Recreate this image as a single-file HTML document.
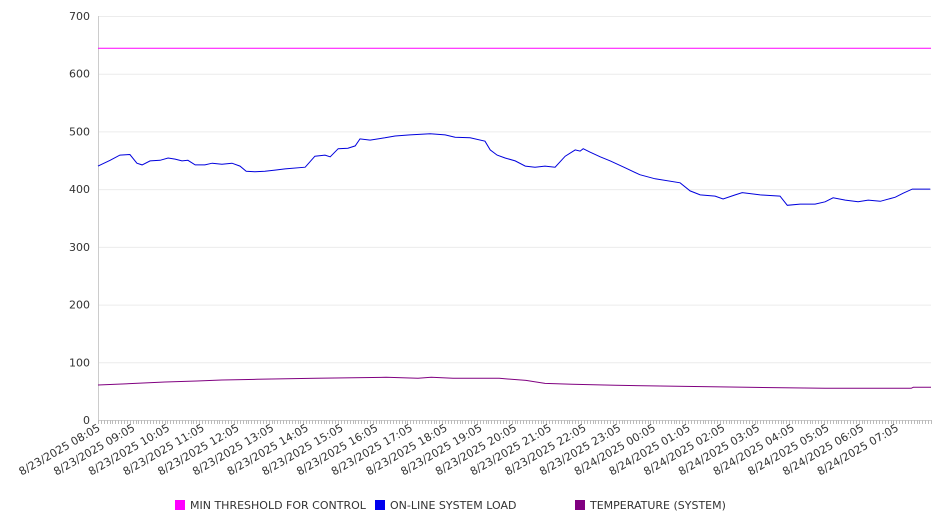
<!DOCTYPE html>
<html><head><meta charset="utf-8"><style>
body{margin:0;background:#fff;}
svg{display:block;font-family:"DejaVu Sans","Liberation Sans",sans-serif;}
</style></head><body>
<svg id="chart" width="946" height="526">
<g id="grid"></g>
<g id="yaxis"></g>
<g id="xaxis"></g>
<g id="series"></g>
<g id="legend">
<g><rect x="175" y="500" width="10" height="10" fill="#ff00ff"/><text x="190" y="509" font-size="11" fill="#333">MIN THRESHOLD FOR CONTROL</text></g>
<g><rect x="375" y="500" width="10" height="10" fill="#0000ee"/><text x="390" y="509" font-size="11" fill="#333">ON-LINE SYSTEM LOAD</text></g>
<g><rect x="575" y="500" width="10" height="10" fill="#800080"/><text x="590" y="509" font-size="11" fill="#333">TEMPERATURE (SYSTEM)</text></g>
</g>
</svg>
<script>
const yTicks=[0,100,200,300,400,500,600,700];
const xLabels=["8/23/2025 08:05","8/23/2025 09:05","8/23/2025 10:05","8/23/2025 11:05","8/23/2025 12:05","8/23/2025 13:05","8/23/2025 14:05","8/23/2025 15:05","8/23/2025 16:05","8/23/2025 17:05","8/23/2025 18:05","8/23/2025 19:05","8/23/2025 20:05","8/23/2025 21:05","8/23/2025 22:05","8/23/2025 23:05","8/24/2025 00:05","8/24/2025 01:05","8/24/2025 02:05","8/24/2025 03:05","8/24/2025 04:05","8/24/2025 05:05","8/24/2025 06:05","8/24/2025 07:05"];
const thresholdHours=[0,24];
const thresholdValues=[644,644];
const loadHours=[0,0.35,0.63,0.92,1.12,1.27,1.5,1.79,2.02,2.22,2.42,2.59,2.8,3.08,3.29,3.57,3.86,4.09,4.27,4.52,4.81,5.1,5.39,5.97,6.25,6.54,6.69,6.92,7.2,7.41,7.55,7.84,8.27,8.56,8.99,9.57,10,10.29,10.72,11.15,11.3,11.5,11.73,12.02,12.31,12.59,12.88,13.17,13.46,13.75,13.89,13.98,14.18,14.47,14.76,15.19,15.61,16.05,16.77,17.06,17.35,17.78,18.01,18.36,18.56,19.08,19.65,19.86,20.23,20.66,20.95,21.18,21.53,21.9,22.19,22.54,22.97,23.2,23.46,23.98];
const loadValues=[440,450,459,460,445,442,449,450,454,452,449,450,442,442,445,443,445,440,431,430,431,433,435,438,457,459,456,470,471,475,487,485,489,492,494,496,494,490,489,483,468,459,454,449,440,438,440,438,457,468,466,470,464,456,449,437,425,418,411,397,390,388,383,390,394,390,388,372,374,374,378,385,381,378,381,379,386,393,400,400];
const tempHours=[0,1.07,1.93,2.85,3.57,4.58,6.28,8.3,9.22,9.6,10.23,11.56,12.33,12.88,13.66,14.9,16.92,18.7,20.95,23.43,23.49,24];
const tempValues=[60.6,63.5,65.8,67.6,69.3,70.5,72.2,73.9,72.5,73.9,72.2,72.2,68.7,63.5,61.8,60.1,58.3,56.6,54.9,54.9,56.6,56.6];

const X0=98,X1=931,Y0=420,Y1=16,NS="http://www.w3.org/2000/svg";
const xs=h=>X0+(X1-X0)*h/24;
const ys=v=>Y0-(Y0-Y1)*v/700;
function mk(tag,attrs,parent){const e=document.createElementNS(NS,tag);for(const k in attrs)e.setAttribute(k,attrs[k]);parent.appendChild(e);return e;}
const grid=document.getElementById('grid'),ya=document.getElementById('yaxis'),xa=document.getElementById('xaxis'),ser=document.getElementById('series');
yTicks.forEach(v=>{
 const l=mk('line',{x1:X0,x2:X1,y1:ys(v)+0.5,y2:ys(v)+0.5,stroke:v===0?'#ccc':'#ececec'},grid);
 
 
 const t=mk('text',{x:90,y:ys(v)+4,'text-anchor':'end','font-size':11,fill:'#333'},ya);
 t.textContent=v;
 
 
});
const ax=mk('line',{x1:X0+0.5,x2:X0+0.5,y1:Y1,y2:Y0,stroke:'#ccc'},ya);


let d='';
for(let i=0;i<=288;i++){const x=Math.round(xs(i/12))+0.5;d+=`M${x} ${Y0}v4`;}
const tk=mk('path',{d:d,stroke:'#bbb','stroke-width':1},xa);


xLabels.forEach((s,i)=>{
 const x=xs(i)+3;
 const t=mk('text',{x:x,y:430,'text-anchor':'end','font-size':11,fill:'#333',transform:`rotate(-30 ${x} 430)`},xa);
 t.textContent=s;
 
 
});
function line(hs,vs,color,name){
 const p=mk('polyline',{points:hs.map((h,i)=>xs(h).toFixed(1)+','+ys(vs[i]).toFixed(1)).join(' '),fill:'none',stroke:color,'stroke-width':1},ser);
 
 
}
line(thresholdHours,thresholdValues,'#ff00ff','threshold-line');
line(tempHours,tempValues,'#800080','temperature-line');
line(loadHours,loadValues,'#0000dd','load-line');
</script>
</body></html>
